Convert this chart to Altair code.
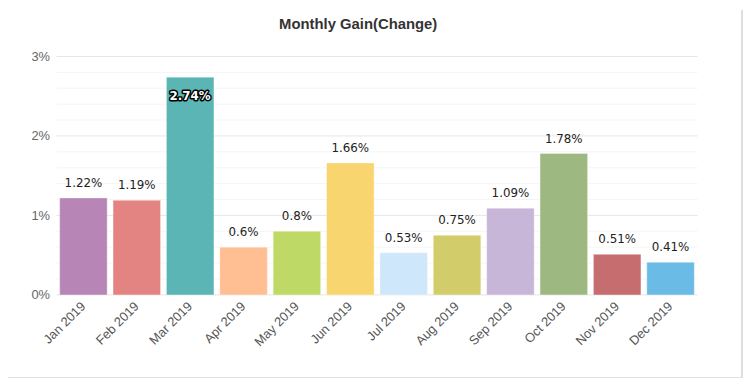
import altair as alt
import pandas as pd

months = ["Jan 2019", "Feb 2019", "Mar 2019", "Apr 2019", "May 2019", "Jun 2019",
          "Jul 2019", "Aug 2019", "Sep 2019", "Oct 2019", "Nov 2019", "Dec 2019"]
gains = [1.22, 1.19, 2.74, 0.6, 0.8, 1.66, 0.53, 0.75, 1.09, 1.78, 0.51, 0.41]
labels = ["1.22%", "1.19%", "2.74%", "0.6%", "0.8%", "1.66%", "0.53%", "0.75%",
          "1.09%", "1.78%", "0.51%", "0.41%"]
colors = ["#B886B6", "#E48482", "#5BB5B5", "#FFBF93", "#BED966", "#F8D56F",
          "#CFE7FB", "#D2CC6A", "#C8B6D8", "#9DB881", "#C66E6F", "#6ABBE6"]
major_ticks = [0, 1, 2, 3]
minor_ticks = [0.2, 0.4, 0.6, 0.8, 1.2, 1.4, 1.6, 1.8, 2.2, 2.4, 2.6, 2.8]

df = pd.DataFrame({"month": months, "gain": gains, "label": labels, "color": colors})
df_major = pd.DataFrame({"gain": major_ticks})
df_minor = pd.DataFrame({"gain": minor_ticks})

W, H = 648, 241
yscale = alt.Scale(domain=[0, 3], nice=False)

yaxis = alt.Axis(values=major_ticks, labelExpr="datum.value + '%'",
                 labelFont="Liberation Sans", labelFontSize=13, labelColor="#666666",
                 labelPadding=7, ticks=False, domain=False, grid=False,
                 labelOverlap=False)

x = alt.X("month:N", sort=months, title=None,
          scale=alt.Scale(paddingInner=0.11, paddingOuter=0.06),
          axis=alt.Axis(labelAngle=-45, labelAlign="right", labelBaseline="middle",
                        labelFont="Liberation Sans", labelFontSize=13, labelColor="#555555",
                        labelPadding=9, ticks=False, domain=False, grid=False))

minor = alt.Chart(df_minor).mark_rule(color="#f5f5f5", strokeWidth=1).encode(
    y=alt.Y("gain:Q", scale=yscale, title=None, axis=yaxis), x=alt.value(0), x2=alt.value(W))
major = alt.Chart(df_major).mark_rule(color="#e6e6e6", strokeWidth=1).encode(
    y=alt.Y("gain:Q", scale=yscale, title=None, axis=yaxis), x=alt.value(0), x2=alt.value(W))

bars = alt.Chart(df).mark_bar(stroke="white", strokeOpacity=0.35, strokeWidth=1).encode(
    x=x, y=alt.Y("gain:Q", scale=yscale, title=None, axis=yaxis),
    color=alt.Color("color:N", scale=None))

outside = alt.Chart(df).transform_filter("datum.gain < 2.5").mark_text(
    font="DejaVu Sans", fontSize=12, color="#222222", baseline="alphabetic", dy=-11
).encode(x=alt.X("month:N", sort=months), y=alt.Y("gain:Q", axis=yaxis, title=None), text="label:N")

inside_stroke = alt.Chart(df).transform_filter("datum.gain >= 2.5").mark_text(
    font="DejaVu Sans", fontSize=12, fontWeight="bold", baseline="alphabetic", dy=23,
    stroke="#000000", strokeWidth=3, fill="#000000", strokeJoin="round"
).encode(x=alt.X("month:N", sort=months), y=alt.Y("gain:Q", axis=yaxis, title=None), text="label:N")

inside_fill = alt.Chart(df).transform_filter("datum.gain >= 2.5").mark_text(
    font="DejaVu Sans", fontSize=12, fontWeight="bold", baseline="alphabetic", dy=23,
    fill="#ffffff"
).encode(x=alt.X("month:N", sort=months), y=alt.Y("gain:Q", axis=yaxis, title=None), text="label:N")

title = alt.Chart(pd.DataFrame({"t": ["Monthly Gain(Change)"]})).mark_text(
    font="Liberation Sans", fontSize=15, fontWeight="bold", color="#333333",
    baseline="middle", align="center"
).encode(x=alt.value(305), y=alt.value(-33), text="t:N")

right_border = alt.Chart(df_major).mark_rule(color="#dddddd", strokeWidth=1).encode(
    x=alt.value(693), y=alt.value(-47), y2=alt.value(325))
bottom_border = alt.Chart(df_major).mark_rule(color="#dddddd", strokeWidth=1).encode(
    x=alt.value(-49), x2=alt.value(693), y=alt.value(325))

chart = alt.layer(minor, major, bars, outside, inside_stroke, inside_fill, title,
                  right_border, bottom_border).properties(
    width=W, height=H,
    autosize=alt.AutoSizeParams(type="none"),
    padding={"left": 49, "top": 47, "right": 48, "bottom": 82},
).configure(background="white").configure_view(stroke=None)

chart.save("out.html", embed_options={"renderer": "svg", "actions": False})
